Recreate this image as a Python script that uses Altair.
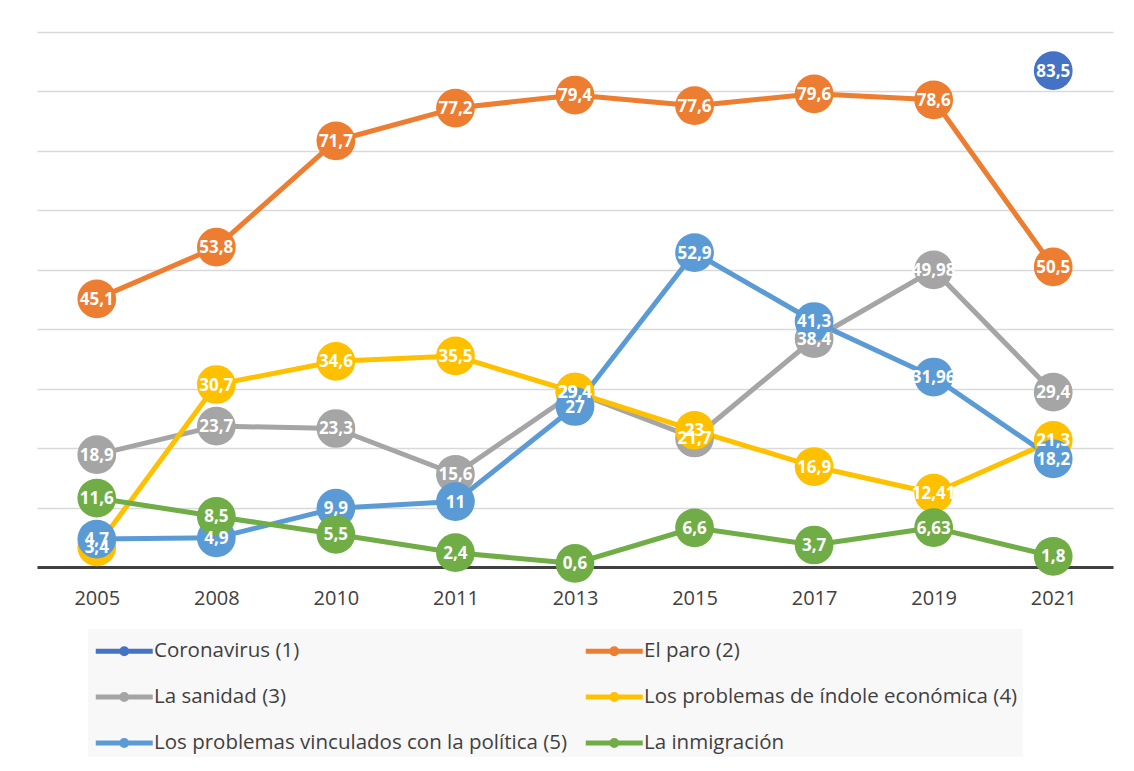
import altair as alt
import pandas as pd

years = ["2005", "2008", "2010", "2011", "2013", "2015", "2017", "2019", "2021"]
series = [
    "Coronavirus (1)",
    "El paro (2)",
    "La sanidad (3)",
    "Los problemas de índole económica (4)",
    "Los problemas vinculados con la política (5)",
    "La inmigración",
]
colors = ["#4472C4", "#ED7D31", "#A5A5A5", "#FFC000", "#5B9BD5", "#70AD47"]

coronavirus = [None, None, None, None, None, None, None, None, 83.5]
paro = [45.1, 53.8, 71.7, 77.2, 79.4, 77.6, 79.6, 78.6, 50.5]
sanidad = [18.9, 23.7, 23.3, 15.6, 29.4, 21.7, 38.4, 49.98, 29.4]
economia = [3.4, 30.7, 34.6, 35.5, 29.4, 23, 16.9, 12.41, 21.3]
politica = [4.7, 4.9, 9.9, 11, 27, 52.9, 41.3, 31.96, 18.2]
inmigracion = [11.6, 8.5, 5.5, 2.4, 0.6, 6.6, 3.7, 6.63, 1.8]

all_values = [coronavirus, paro, sanidad, economia, politica, inmigracion]

rows = []
for si, (name, vals) in enumerate(zip(series, all_values)):
    for yr, v in zip(years, vals):
        if v is None:
            continue
        rows.append({"year": yr, "series": name, "value": v,
                     "label": f"{v}".replace(".", ","), "order": si})
df = pd.DataFrame(rows)

FONT = "Open Sans"

x = alt.X("year:O", sort=years,
          axis=alt.Axis(title=None, labelAngle=0, ticks=False, grid=False,
                        domainColor="#404040", domainWidth=3,
                        labelFontSize=20, labelColor="#404040", labelFont=FONT,
                        labelPadding=21, zindex=0))
y = alt.Y("value:Q", scale=alt.Scale(domain=[0, 90], nice=False),
          axis=alt.Axis(title=None, labels=False, ticks=False, domain=False,
                        values=list(range(0, 91, 10)), gridColor="#d9d9d9",
                        gridWidth=1.5, zindex=0))

legend_path = ("M-1,0H3M1.175,0A0.175,0.175,0,1,1,0.825,0"
               "A0.175,0.175,0,1,1,1.175,0Z")

color_scale = alt.Scale(domain=series, range=colors)

lines = alt.Chart(df).mark_line(strokeWidth=5, strokeCap="round", strokeJoin="round").encode(
    x=x, y=y,
    color=alt.Color("series:N", scale=color_scale, sort=series,
                    legend=alt.Legend(
                        title=None, orient="none", legendX=51, legendY=597,
                        columns=2, direction="horizontal",
                        fillColor="#f8f8f8", padding=5,
                        symbolType=legend_path, symbolSize=812,
                        symbolStrokeWidth=5, labelOffset=27,
                        rowPadding=16, columnPadding=8,
                        labelFontSize=20.5, labelFont=FONT, labelColor="#404040",
                        labelLimit=0)),
    detail="series:N",
)

points = alt.Chart(df).mark_circle(size=1500, opacity=1).encode(
    x=x, y=y,
    color=alt.Color("series:N", scale=color_scale, legend=None),
    order=alt.Order("order:Q"),
)

labels = alt.Chart(df).mark_text(color="white", fontWeight="bold", fontSize=17,
                                 font=FONT, baseline="middle", align="center", dy=1).encode(
    x=x, y=y, text="label:N",
    order=alt.Order("order:Q"),
)

chart = alt.layer(lines, points, labels).properties(
    width=1076, height=535,
    autosize=alt.AutoSizeParams(type="none"),
    padding={"left": 29, "top": 24, "right": 10, "bottom": 190},
    background="white",
).configure_view(stroke=None)

chart.save("out.html", embed_options={"renderer": "svg", "actions": False})
